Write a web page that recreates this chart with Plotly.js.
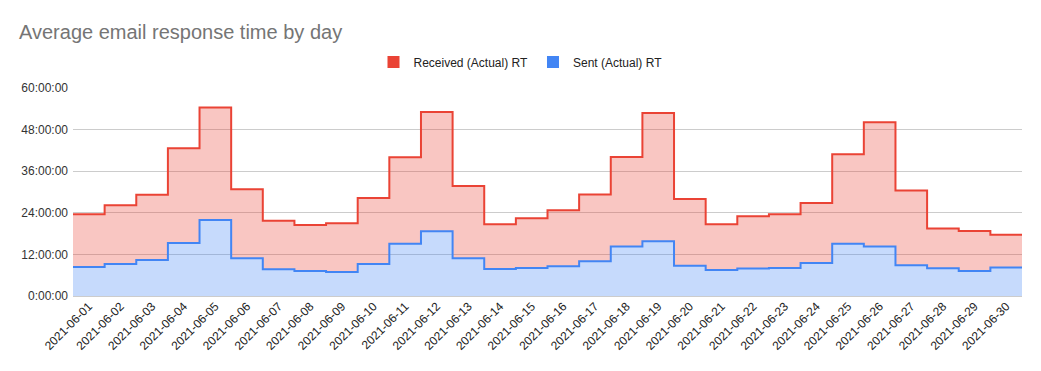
<!DOCTYPE html>
<html>
<head>
<meta charset="utf-8">
<script src="https://cdn.plot.ly/plotly-3.0.1.min.js"></script>
<style>html,body{margin:0;padding:0;background:#fff;}#chart{width:1041px;height:371px;}</style>
</head>
<body>
<div id="chart"></div>
<script>
const dates = ["2021-06-01","2021-06-02","2021-06-03","2021-06-04","2021-06-05","2021-06-06","2021-06-07","2021-06-08","2021-06-09","2021-06-10",
"2021-06-11","2021-06-12","2021-06-13","2021-06-14","2021-06-15","2021-06-16","2021-06-17","2021-06-18","2021-06-19","2021-06-20",
"2021-06-21","2021-06-22","2021-06-23","2021-06-24","2021-06-25","2021-06-26","2021-06-27","2021-06-28","2021-06-29","2021-06-30"];
// hours
const receivedRT = [23.6,26.2,29.2,42.6,54.4,30.8,21.7,20.5,21.0,28.3,
40.0,53.1,31.7,20.7,22.4,24.7,29.3,40.1,52.8,28.0,
20.7,23.0,23.6,26.8,40.9,50.1,30.4,19.5,18.75,17.7];
const sentRT = [8.4,9.2,10.4,15.3,21.9,10.9,7.7,7.2,6.9,9.2,
15.1,18.65,10.9,7.8,8.1,8.55,10.0,14.3,15.8,8.75,
7.5,7.9,8.1,9.5,15.1,14.3,8.85,8.0,7.2,8.2];
const yTickVals = [0,12,24,36,48,60];
const yTickText = ["0:00:00","12:00:00","24:00:00","36:00:00","48:00:00","60:00:00"];

function stepX(vals){ const xs = vals.map((v,i)=>i-0.5); xs.push(vals.length-0.5); return xs; }
function stepY(vals){ const ys = vals.slice(); ys.push(vals[vals.length-1]); return ys; }

const FONT = '"Liberation Sans", Arial, sans-serif';
const traces = [
  {x: stepX(sentRT), y: stepY(sentRT), type:'scatter', mode:'lines', line:{shape:'hv', color:'#4285f4', width:2},
   fill:'tozeroy', fillcolor:'rgba(66,133,244,0.3)', showlegend:false, hoverinfo:'skip'},
  {x: stepX(receivedRT), y: stepY(receivedRT), type:'scatter', mode:'lines', line:{shape:'hv', color:'#ea4335', width:2},
   fill:'tonexty', fillcolor:'rgba(234,67,53,0.3)', showlegend:false, hoverinfo:'skip'},
  {x:[null], y:[null], type:'bar', name:'Received (Actual) RT', marker:{color:'#ea4335'}},
  {x:[null], y:[null], type:'bar', name:'Sent (Actual) RT', marker:{color:'#4285f4'}}
];
const layout = {
  width:1041, height:371,
  margin:{l:73, r:19, t:88, b:75, autoexpand:false},
  paper_bgcolor:'#fff', plot_bgcolor:'#fff',
  font:{family:FONT, size:12, color:'#222'},
  title:{text:'Average email response time by day', x:19/1041, xanchor:'left', xref:'container',
    y:1-32/371, yanchor:'middle', yref:'container', font:{family:FONT, size:20, color:'#757575'}},
  showlegend:true,
  legend:{orientation:'h', x:(520.5-73)/949, xanchor:'center', y:1+(88-62)/208, yanchor:'middle', font:{size:12, color:'#222'}, traceorder:'normal'},
  xaxis:{range:[-0.5, dates.length-0.5], tickmode:'array', tickvals:dates.map((d,i)=>i), ticktext:dates,
    tickangle:-45, showgrid:false, zeroline:false, showline:false, ticks:'', tickfont:{size:12, color:'#222'}, fixedrange:true},
  yaxis:{range:[0,60], tickmode:'array', tickvals:yTickVals, ticktext:yTickText, showgrid:true, gridcolor:'#cccccc', gridwidth:1,
    zeroline:true, zerolinecolor:'#cccccc', zerolinewidth:1, showline:false, ticks:'', ticklabelstandoff:4, tickfont:{size:12, color:'#333'}, fixedrange:true},
  barmode:'overlay'
};
Plotly.newPlot('chart', traces, layout, {displayModeBar:false, staticPlot:true});
</script>
</body>
</html>
